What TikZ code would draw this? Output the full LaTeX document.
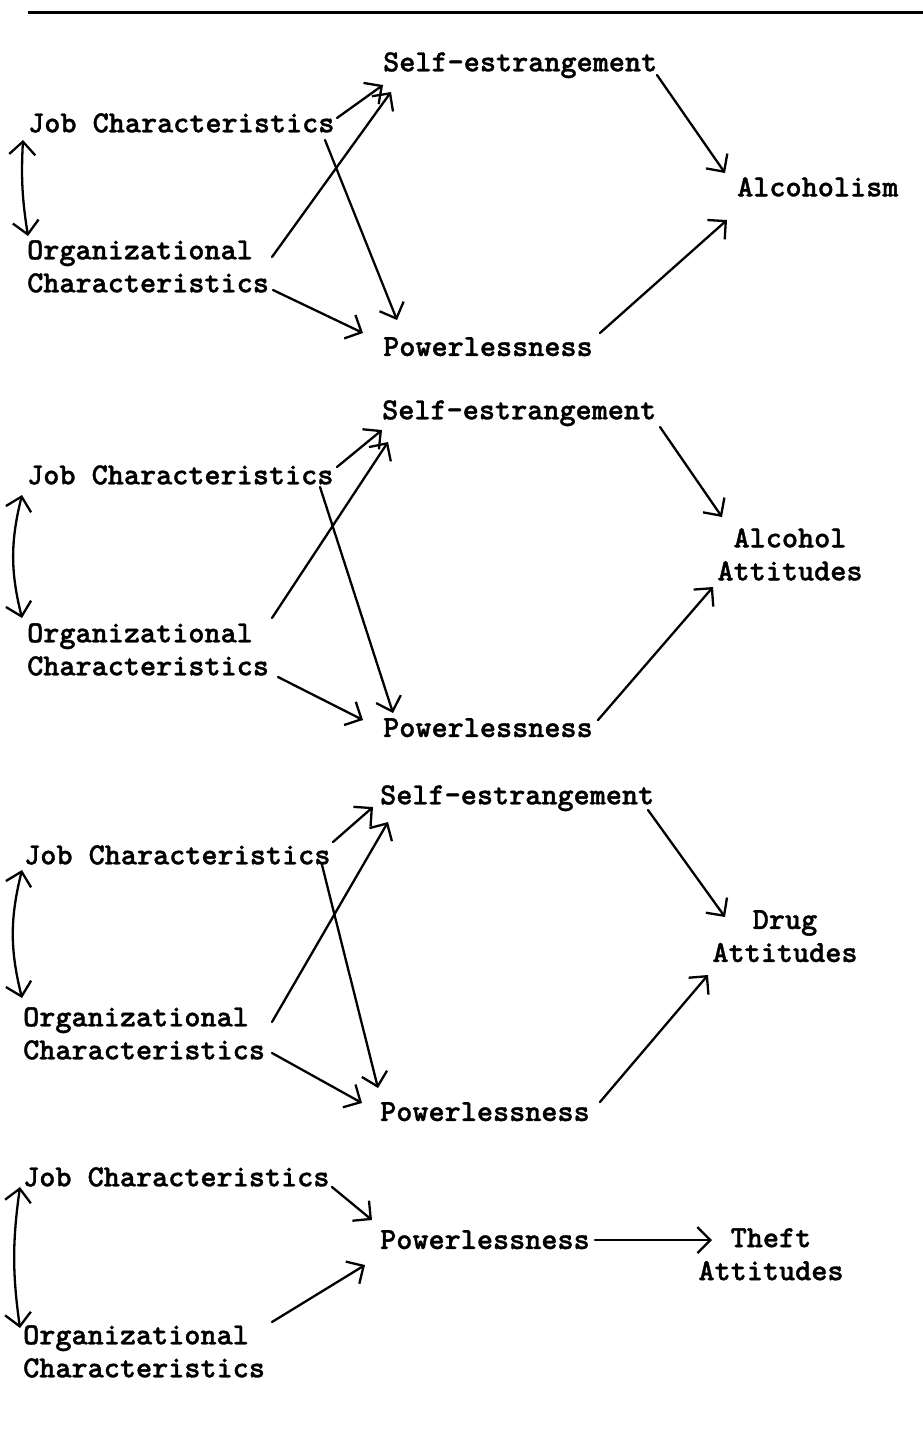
\documentclass[tikz,border=0pt]{standalone}
\usepackage{fontspec}
\usetikzlibrary{arrows.meta}

% typewriter face, thickened a little
\newfontfamily\typewriter{lmmonolt10-bold.otf}[FakeBold=1.2]

\tikzset{
  TB/.tip={Straight Barb[length=13pt,width=26pt,line width=2.3pt]},
  lbl/.style={inner sep=0pt, font=\typewriter\fontsize{30.7}{33}\selectfont},
  lblL/.style={lbl, anchor=north west, align=left},
  lblC/.style={lbl, anchor=north, align=center},
  arr/.style={line width=2.3pt, line cap=round, -{TB}},
  dbl/.style={line width=2.3pt, line cap=round, {TB}-{TB}},
  rule/.style={line width=3pt}
}

\begin{document}
\begin{tikzpicture}[x=1pt, y=-1pt]
\useasboundingbox (0,0) rectangle (923,1438);

% heading rule
\coordinate (ruleL) at (28,12);
\coordinate (ruleR) at (923,12);
\draw[rule] (ruleL) -- (ruleR);

% ---------- model 1: alcoholism ----------
\node[lblL] (JC1) at (28,113) {Job Characteristics};
\node[lblL] (OC1) at (27,240) {Organizational\\Characteristics};
\node[lblL] (SE1) at (383,52) {Self-estrangement};
\node[lblL] (PW1) at (383,337) {Powerlessness};
\node[lblL] (AL1) at (737,177) {Alcoholism};

\draw[dbl] ([shift={(-5,27)}]JC1.north west) to[bend right=6] ([shift={(1,-4)}]OC1.north west);
\draw[arr] ([shift={(309,5)}]JC1.north west) -- ([shift={(0,33)}]SE1.north west);
\draw[arr] ([shift={(245,17)}]OC1.north west) -- ([shift={(8,40)}]SE1.north west);
\draw[arr] ([shift={(297,27)}]JC1.north west) -- ([shift={(14,-17)}]PW1.north west);
\draw[arr] ([shift={(246,50)}]OC1.north west) -- ([shift={(-20,-4)}]PW1.north west);
\draw[arr] ([shift={(274,23)}]SE1.north west) -- ([shift={(-12,-4)}]AL1.north west);
\draw[arr] ([shift={(217,-4)}]PW1.north west) -- ([shift={(-10,43)}]AL1.north west);

% ---------- model 2: alcohol attitudes ----------
\node[lblL] (JC2) at (27,465) {Job Characteristics};
\node[lblL] (OC2) at (27,623) {Organizational\\Characteristics};
\node[lblL] (SE2) at (382,400) {Self-estrangement};
\node[lblL] (PW2) at (383,718) {Powerlessness};
\node[lblC] (AA2) at (790,528) {Alcohol\\Attitudes};

\draw[dbl] ([shift={(-5,30)}]JC2.north west) to[bend right=14] ([shift={(-5,-5)}]OC2.north west);
\draw[arr] ([shift={(310,2)}]JC2.north west) -- ([shift={(0,30)}]SE2.north west);
\draw[arr] ([shift={(245,-5)}]OC2.north west) -- ([shift={(6,42)}]SE2.north west);
\draw[arr] ([shift={(293,22)}]JC2.north west) -- ([shift={(10,-5)}]PW2.north west);
\draw[arr] ([shift={(251,54)}]OC2.north west) -- ([shift={(-20,2)}]PW2.north west);
\draw[arr] ([shift={(278,27)}]SE2.north west) -- ([shift={(-68,-11)}]AA2.north);
\draw[arr] ([shift={(215,2)}]PW2.north west) -- ([shift={(-77,59)}]AA2.north);

% ---------- model 3: drug attitudes ----------
\node[lblL] (JC3) at (24,845) {Job Characteristics};
\node[lblL] (OC3) at (23,1007) {Organizational\\Characteristics};
\node[lblL] (SE3) at (380,785) {Self-estrangement};
\node[lblL] (PW3) at (380,1102) {Powerlessness};
\node[lblC] (DA3) at (785,910) {Drug\\Attitudes};

\draw[dbl] ([shift={(-2,25)}]JC3.north west) to[bend right=14] ([shift={(-1,-9)}]OC3.north west);
\draw[arr] ([shift={(309,-3)}]JC3.north west) -- ([shift={(-7,22)}]SE3.north west);
\draw[arr] ([shift={(249,15)}]OC3.north west) -- ([shift={(8,37)}]SE3.north west);
\draw[arr] ([shift={(298,20)}]JC3.north west) -- ([shift={(-2,-14)}]PW3.north west);
\draw[arr] ([shift={(249,46)}]OC3.north west) -- ([shift={(-18,1)}]PW3.north west);
\draw[arr] ([shift={(268,25)}]SE3.north west) -- ([shift={(-60,7)}]DA3.north);
\draw[arr] ([shift={(220,0)}]PW3.north west) -- ([shift={(-77,65)}]DA3.north);

% ---------- model 4: theft attitudes ----------
\node[lblL] (JC4) at (23,1167) {Job Characteristics};
\node[lblL] (OC4) at (23,1325) {Organizational\\Characteristics};
\node[lblL] (PW4) at (380,1230) {Powerlessness};
\node[lblC] (TA4) at (771,1228) {Theft\\Attitudes};

\draw[dbl] ([shift={(-3,20)}]JC4.north west) to[bend right=8] ([shift={(-3,3)}]OC4.north west);
\draw[arr] ([shift={(309,20)}]JC4.north west) -- ([shift={(-8,-10)}]PW4.north west);
\draw[arr] ([shift={(249,-3)}]OC4.north west) -- ([shift={(-15,35)}]PW4.north west);
\draw[arr] ([shift={(215,10)}]PW4.north west) -- ([shift={(-59,12)}]TA4.north);
\end{tikzpicture}
\end{document}
